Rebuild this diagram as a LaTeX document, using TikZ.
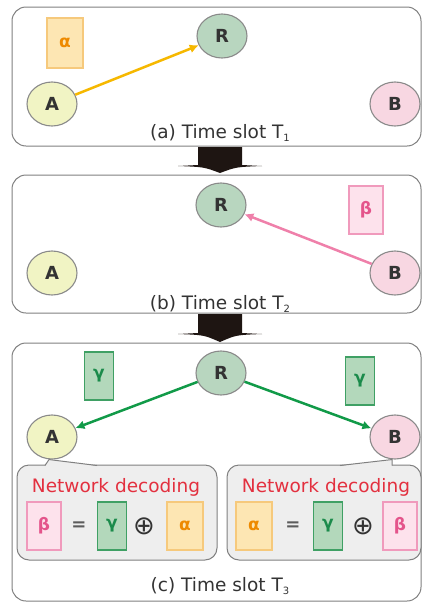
\documentclass[tikz,border=0pt]{standalone}
\usepackage{fontspec}
\setmainfont{DejaVu Sans}
\usetikzlibrary{arrows.meta,shapes.geometric}
\definecolor{panelborder}{HTML}{808080}
\definecolor{nodeborder}{HTML}{8A8A8A}
\definecolor{textdark}{HTML}{333333}
\definecolor{Afill}{HTML}{F1F4C4}
\definecolor{Rfill}{HTML}{B8D6BF}
\definecolor{Bfill}{HTML}{F8D7E2}
\definecolor{alphafill}{HTML}{FDE6B3}
\definecolor{alphaborder}{HTML}{F6C97C}
\definecolor{alphatext}{HTML}{EE8A00}
\definecolor{betafill}{HTML}{FDE2EC}
\definecolor{betaborder}{HTML}{F09ABC}
\definecolor{betatext}{HTML}{E4548B}
\definecolor{gammafill}{HTML}{B3D8BB}
\definecolor{gammaborder}{HTML}{3FA064}
\definecolor{gammatext}{HTML}{1B8B4B}
\definecolor{calloutfill}{HTML}{EEEEEE}
\definecolor{decodered}{HTML}{E3303F}
\definecolor{orangeline}{HTML}{F6B800}
\definecolor{pinkline}{HTML}{EF80AA}
\definecolor{greenline}{HTML}{119A48}
\definecolor{blockarrow}{HTML}{1E1512}
\begin{document}
\begin{tikzpicture}[x=1pt,y=-1pt,
  panel/.style={draw=panelborder,line width=1pt,rounded corners=14pt},
  station/.style={ellipse,draw=nodeborder,line width=1.1pt,minimum width=50pt,minimum height=44pt,inner sep=0pt,font=\fontsize{18}{18}\selectfont\bfseries,text=textdark},
  pkt/.style={draw,line width=1.2pt,inner sep=0pt,font=\fontsize{17}{17}\selectfont\bfseries,minimum height=48pt},
  alphabox/.style={pkt,fill=alphafill,draw=alphaborder,text=alphatext,minimum width=36pt},
  betabox/.style={pkt,fill=betafill,draw=betaborder,text=betatext,minimum width=34pt},
  gammabox/.style={pkt,fill=gammafill,draw=gammaborder,text=gammatext,minimum width=29pt},
  slotlabel/.style={font=\fontsize{18.5}{18.5}\selectfont,text=textdark},
  callout/.style={draw=panelborder,fill=calloutfill,line width=1pt,rounded corners=12pt,minimum height=95pt,inner sep=0pt},
  decodetext/.style={font=\fontsize{18.5}{18.5}\selectfont,text=decodered},
  optext/.style={font=\fontsize{18}{18}\selectfont\bfseries,text=textdark!80},
  xortext/.style={font=\fontsize{26}{26}\selectfont,text=textdark},
  flow/.style={line width=2.5pt,-{Latex[length=9pt,width=9pt]}},
  bigarrow/.style={fill=blockarrow}
]
\useasboundingbox (0,0) rectangle (422,603);

% panels
\draw[panel] (12,7) rectangle (421,146);
\draw[panel] (12,175) rectangle (421,313);
\draw[panel] (12,343) rectangle (421,601);

% block arrows between panels
\fill[bigarrow] (198,147) -- (242,147) -- (242,165) -- (262,166)
  .. controls (236,167) .. (220,173) .. controls (204,167) .. (178,166) -- (198,165) -- cycle;
\fill[bigarrow] (198,314) -- (242,314) -- (242,333) -- (262,334)
  .. controls (236,335) .. (220,342) .. controls (204,335) .. (178,334) -- (198,333) -- cycle;

% (a)
\node[station,fill=Afill] (A1) at (52,104) {A};
\node[station,fill=Rfill] (R1) at (222,36) {R};
\node[station,fill=Bfill] (B1) at (395,104) {B};
\node[alphabox,minimum height=50pt] (alpha1) at (65,43) {α};
\draw[flow,orangeline] (A1) -- (R1);
\node[slotlabel] (labA) at (220,133) {(a) Time slot T\raisebox{-0.35ex}{\fontsize{10}{10}\selectfont 1}};

% (b)
\node[station,fill=Afill] (A2) at (52,273) {A};
\node[station,fill=Rfill] (R2) at (221,205) {R};
\node[station,fill=Bfill] (B2) at (395,273) {B};
\node[betabox] (beta2) at (366,210) {β};
\draw[flow,pinkline] (B2) -- (R2);
\node[slotlabel] (labB) at (220,304) {(b) Time slot T\raisebox{-0.35ex}{\fontsize{10}{10}\selectfont 2}};

% (c)
\node[station,fill=Afill] (A3) at (52,437) {A};
\node[station,fill=Rfill] (R3) at (221,373) {R};
\node[station,fill=Bfill] (B3) at (395,437) {B};
\node[gammabox] (gammaL) at (99,376) {γ};
\node[gammabox] (gammaR) at (360,381) {γ};
\draw[flow,greenline] (R3) -- (A3);
\draw[flow,greenline] (R3) -- (B3);

% callouts
\node[callout,minimum width=200pt] (decL) at (117,512.5) {};
\node[callout,minimum width=194pt] (decR) at (324,512.5) {};
\fill[calloutfill] (45,466) -- ([xshift=-3pt]A3.south) -- (97,466) -- cycle;
\draw[panelborder,line width=1pt] (45,465.5) -- ([xshift=-3pt]A3.south) -- (97,465.5);
\fill[calloutfill] (340,466) -- ([xshift=-3pt]B3.south) -- (392,466) -- cycle;
\draw[panelborder,line width=1pt] (340,465.5) -- ([xshift=-3pt]B3.south) -- (392,465.5);

\node[decodetext] (ndL) at (116,487) {Network decoding};
\node[decodetext] (ndR) at (326,487) {Network decoding};

% left equation
\node[betabox] (eqLbeta) at (44,526) {β};
\node[optext] (eqLeq) at (79,526) {=};
\node[gammabox] (eqLgamma) at (112,526) {γ};
\node[xortext] (eqLxor) at (144,526) {⊕};
\node[alphabox] (eqLalpha) at (185,526) {α};

% right equation
\node[alphabox] (eqRalpha) at (254,526) {α};
\node[optext] (eqReq) at (293,526) {=};
\node[gammabox] (eqRgamma) at (328,526) {γ};
\node[xortext] (eqRxor) at (363,526) {⊕};
\node[betabox] (eqRbeta) at (400,526) {β};

\node[slotlabel] (labC) at (220,586) {(c) Time slot T\raisebox{-0.35ex}{\fontsize{10}{10}\selectfont 3}};
\end{tikzpicture}
\end{document}
